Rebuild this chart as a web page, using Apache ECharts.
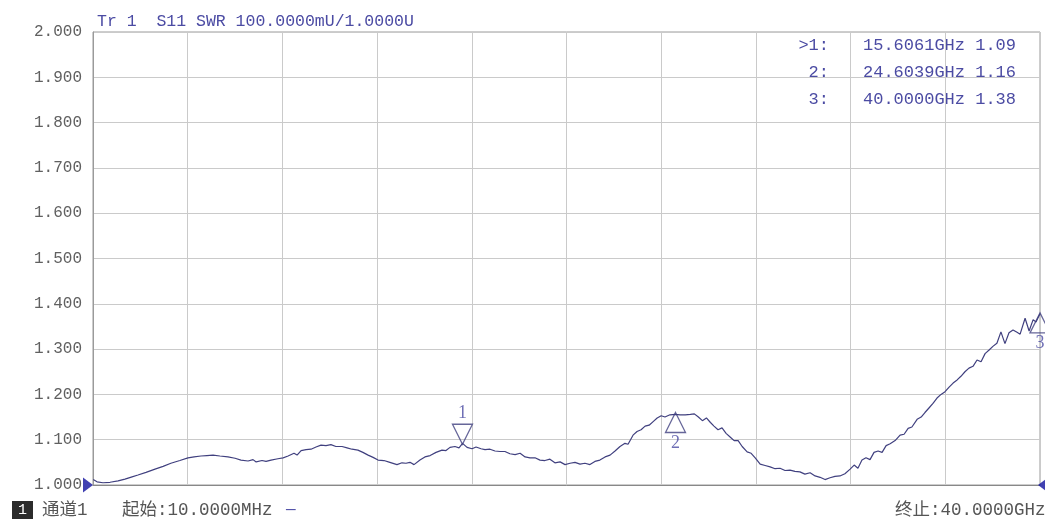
<!DOCTYPE html>
<html>
<head>
<meta charset="utf-8">
<script src="https://cdn.jsdelivr.net/npm/echarts@6/dist/echarts.min.js"></script>
<style>html,body{margin:0;padding:0;background:#fff;}#c{width:1045px;height:520px;}</style>
</head>
<body>
<div id="c"></div>
<script>
// Frequency (GHz) and SWR trace values
var freqGHz = [0.01,0.17,0.42,0.72,1.06,1.35,1.65,1.90,2.24,2.62,2.96,3.29,3.67,4.01,4.27,4.56,4.81,5.07,5.36,5.70,6.00,6.25,6.55,6.76,6.89,7.14,7.31,7.52,7.81,8.03,8.24,8.49,8.62,8.79,9.00,9.21,9.42,9.63,9.84,10.05,10.26,10.52,10.73,10.94,11.19,11.40,11.62,11.83,12.04,12.29,12.54,12.84,13.05,13.22,13.39,13.56,13.81,14.02,14.24,14.49,14.74,14.91,15.08,15.29,15.46,15.61,15.80,16.01,16.18,16.39,16.56,16.77,16.98,17.19,17.40,17.61,17.83,18.04,18.25,18.46,18.67,18.88,19.09,19.30,19.51,19.73,19.94,20.15,20.36,20.57,20.78,20.99,21.20,21.41,21.63,21.84,22.05,22.26,22.47,22.60,22.81,22.98,23.15,23.32,23.49,23.66,23.83,24.00,24.16,24.37,24.60,24.80,25.02,25.23,25.40,25.57,25.74,25.91,26.08,26.23,26.40,26.57,26.74,26.91,27.08,27.25,27.42,27.63,27.80,27.97,28.18,28.39,28.60,28.81,29.02,29.23,29.44,29.65,29.86,30.07,30.29,30.50,30.71,30.92,31.13,31.34,31.55,31.76,31.98,32.15,32.31,32.48,32.65,32.82,32.99,33.16,33.33,33.50,33.67,33.88,34.09,34.26,34.43,34.59,34.81,34.98,35.14,35.31,35.48,35.65,35.82,35.99,36.16,36.33,36.50,36.66,36.83,37.00,37.17,37.34,37.51,37.68,37.85,38.01,38.18,38.35,38.52,38.69,38.86,39.03,39.16,39.37,39.54,39.71,39.83,40.00];
var swr = [1.012,1.007,1.005,1.006,1.009,1.013,1.018,1.022,1.028,1.035,1.041,1.048,1.054,1.060,1.062,1.064,1.065,1.066,1.064,1.062,1.059,1.055,1.053,1.056,1.051,1.054,1.052,1.055,1.058,1.060,1.064,1.070,1.066,1.076,1.078,1.079,1.084,1.088,1.087,1.089,1.085,1.085,1.082,1.079,1.077,1.072,1.066,1.061,1.055,1.054,1.050,1.045,1.049,1.048,1.050,1.045,1.055,1.062,1.065,1.072,1.077,1.076,1.083,1.085,1.082,1.092,1.083,1.080,1.084,1.080,1.078,1.079,1.075,1.074,1.074,1.069,1.067,1.070,1.062,1.060,1.060,1.055,1.054,1.057,1.049,1.051,1.045,1.048,1.050,1.046,1.048,1.045,1.052,1.055,1.062,1.066,1.075,1.085,1.092,1.090,1.110,1.118,1.122,1.130,1.132,1.140,1.148,1.153,1.150,1.155,1.156,1.155,1.155,1.156,1.157,1.150,1.142,1.148,1.138,1.130,1.122,1.126,1.114,1.106,1.098,1.098,1.085,1.073,1.070,1.060,1.046,1.043,1.040,1.036,1.037,1.032,1.033,1.030,1.029,1.024,1.027,1.020,1.017,1.012,1.016,1.019,1.020,1.025,1.035,1.044,1.037,1.055,1.060,1.056,1.072,1.075,1.072,1.087,1.091,1.098,1.110,1.112,1.125,1.128,1.145,1.150,1.160,1.170,1.180,1.192,1.200,1.206,1.216,1.225,1.232,1.240,1.250,1.258,1.262,1.276,1.272,1.290,1.298,1.306,1.313,1.338,1.312,1.336,1.342,1.337,1.333,1.368,1.340,1.365,1.360,1.378];

// Markers
var markerNames = ['1', '2', '3'];
var markerFreq = [15.6061, 24.6039, 40.0000];
var markerVal = [1.09, 1.16, 1.38];
var markerDown = [true, false, false];

// Axis settings
var yMin = 1.0, yMax = 2.0, yStep = 0.1;
var xMin = 0, xMax = 40, xStep = 4;

var titleText = 'Tr 1  S11 SWR 100.0000mU/1.0000U';
var startText = '起始:10.0000MHz';
var stopText = '终止:40.0000GHz';
var channelText = '通道1';

var traceColor = '#40407f';
var textBlue = '#4b4ba3';
var MONO = "'Liberation Mono','Noto Sans CJK SC',monospace";

var chart = echarts.init(document.getElementById('c'));

var lineData = freqGHz.map(function (f, i) { return [f, swr[i]]; });

var downPath = 'path://M0,0 L20,0 L10,20 Z';
var upPath = 'path://M10,0 L20,20 L0,20 Z';

var markerSeries = markerFreq.map(function (f, i) {
  var down = markerDown[i];
  return {
    type: 'scatter',
    data: [[f, markerVal[i]]],
    symbol: down ? downPath : upPath,
    symbolSize: [20, 20],
    symbolOffset: down ? [0, -10] : [0, 10],
    clip: false,
    z: 5,
    itemStyle: { color: 'rgba(0,0,0,0)', borderColor: traceColor, borderWidth: 1.3 },
    label: {
      show: true,
      formatter: markerNames[i],
      position: down ? 'top' : 'bottom',
      distance: 1,
      color: textBlue,
      fontFamily: "'Liberation Serif',serif",
      fontSize: 18
    },
    emphasis: { disabled: true },
    silent: true
  };
});

var tableGraphics = [];
markerFreq.forEach(function (f, i) {
  var y = 45 + i * 27;
  tableGraphics.push({
    type: 'text', x: 829, y: y,
    style: { text: (i === 0 ? '>' : '') + markerNames[i] + ':', fill: textBlue, font: '17px ' + MONO, textAlign: 'right', textVerticalAlign: 'middle' }
  });
  tableGraphics.push({
    type: 'text', x: 863, y: y,
    style: { text: f.toFixed(4) + 'GHz ' + markerVal[i].toFixed(2), fill: textBlue, font: '17px ' + MONO, textAlign: 'left', textVerticalAlign: 'middle' }
  });
});

var option = {
  animation: false,
  backgroundColor: '#ffffff',
  grid: { left: 93, right: 5, top: 32, bottom: 35, show: true, borderColor: '#9a9a9a', borderWidth: 1, backgroundColor: 'transparent' },
  xAxis: {
    type: 'value', min: xMin, max: xMax, interval: xStep,
    axisLabel: { show: false }, axisTick: { show: false },
    axisLine: { show: true, lineStyle: { color: '#888' } },
    splitLine: { show: true, lineStyle: { color: '#cacaca', width: 1 } }
  },
  yAxis: {
    type: 'value', min: yMin, max: yMax, interval: yStep,
    axisTick: { show: false },
    axisLine: { show: true, lineStyle: { color: '#9a9a9a' } },
    splitLine: { show: true, lineStyle: { color: '#cacaca', width: 1 } },
    axisLabel: {
      formatter: function (v) { return v.toFixed(3); },
      color: '#606060', fontSize: 16, fontFamily: MONO, margin: 11
    }
  },
  series: [
    {
      type: 'line', data: lineData, showSymbol: false, symbol: 'none',
      lineStyle: { color: traceColor, width: 1.2 }, z: 3, silent: true
    },
    {
      type: 'scatter', data: [[xMin, yMin]], clip: false,
      symbol: 'path://M0,0 L10,7 L0,14 Z', symbolSize: [10, 15], symbolOffset: [-5, 0],
      itemStyle: { color: '#12129e' }, z: 6, silent: true
    },
    {
      type: 'scatter', data: [[xMax, yMin]], clip: false,
      symbol: 'path://M10,0 L0,7 L10,14 Z', symbolSize: [8, 12], symbolOffset: [2, 0],
      itemStyle: { color: '#12129e' }, z: 6, silent: true
    }
  ].concat(markerSeries),
  graphic: [
    { type: 'text', x: 97, y: 22, style: { text: titleText, fill: textBlue, font: '16.5px ' + MONO, textVerticalAlign: 'middle' } },
    { type: 'rect', shape: { x: 12, y: 501, width: 21, height: 18 }, style: { fill: '#2b2b2b' } },
    { type: 'text', x: 22.5, y: 510, style: { text: '1', fill: '#ffffff', font: '15px ' + MONO, textAlign: 'center', textVerticalAlign: 'middle' } },
    { type: 'text', x: 42, y: 510, style: { text: channelText, fill: '#555', font: '17.5px ' + MONO, textVerticalAlign: 'middle' } },
    { type: 'text', x: 122, y: 510, style: { text: startText, fill: '#555', font: '17.5px ' + MONO, textVerticalAlign: 'middle' } },
    { type: 'text', x: 286, y: 510, style: { text: '—', fill: '#5050a8', font: '16px ' + MONO, textVerticalAlign: 'middle' } },
    { type: 'text', x: 895, y: 510, style: { text: stopText, fill: '#555', font: '17.5px ' + MONO, textVerticalAlign: 'middle' } }
  ].concat(tableGraphics)
};
chart.setOption(option);
</script>
</body>
</html>
